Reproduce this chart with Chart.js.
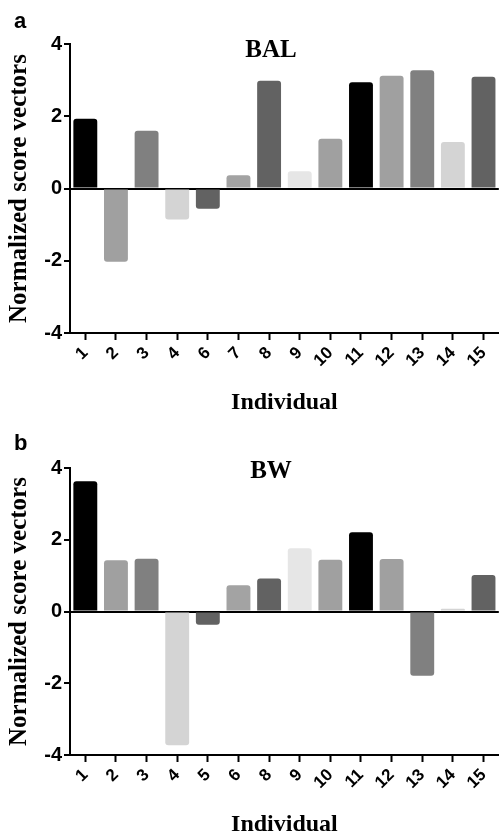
<!DOCTYPE html>
<html>
<head>
<meta charset="utf-8">
<script src="https://cdn.jsdelivr.net/npm/chart.js@4"></script>
<style>
  body { margin: 0; background: #fff; }
  .panel { position: relative; width: 501px; height: 417px; }
</style>
</head>
<body>
<div class="panel"><canvas id="chartA"></canvas></div>
<div class="panel"><canvas id="chartB"></canvas></div>
<script>
// panel a - BAL
const labelsA = ['1', '2', '3', '4', '6', '7', '8', '9', '10', '11', '12', '13', '14', '15'];
const valuesA = [1.93, -2.03, 1.6, -0.86, -0.56, 0.37, 2.98, 0.48, 1.38, 2.94, 3.12, 3.27, 1.29, 3.09];

// panel b - BW
const labelsB = ['1', '2', '3', '4', '5', '6', '8', '9', '10', '11', '12', '13', '14', '15'];
const valuesB = [3.63, 1.43, 1.47, -3.73, -0.37, 0.73, 0.92, 1.76, 1.44, 2.21, 1.46, -1.79, 0.08, 1.02];

const barColors = ['#000000', '#a0a0a0', '#808080', '#d4d4d4', '#626262', '#a3a3a3', '#626262',
                   '#e6e6e6', '#a0a0a0', '#000000', '#a0a0a0', '#808080', '#d4d4d4', '#626262'];
const yTicks = [-4, -2, 0, 2, 4];

// draws the panel letter and the serif title
const panelText = {
    id: 'panelText',
    afterDraw(chart, args, opts) {
        const ctx = chart.ctx;
        ctx.save();
        ctx.fillStyle = '#000';
        ctx.textBaseline = 'alphabetic';
        ctx.textAlign = 'left';
        ctx.font = 'bold 22px "Liberation Sans", Arial, sans-serif';
        ctx.fillText(opts.letter, 14, opts.letterY);
        ctx.textAlign = 'center';
        ctx.font = 'bold 25px "Liberation Serif", "Times New Roman", serif';
        ctx.fillText(opts.title, 271, opts.titleY);
        ctx.restore();
    }
};

function make_chart(id, labels, values, letter, title, top, xHeight, letterY, titleY, titlePad) {
    const data = {
        labels: labels,
        datasets: [{
            data: values,
            backgroundColor: barColors,
            borderWidth: 0,
            borderRadius: 3,
            barPercentage: 0.78,
            categoryPercentage: 1.0
        }]
    };
    const config = {
        type: 'bar',
        data: data,
        plugins: [panelText],
        options: {
            responsive: true,
            maintainAspectRatio: false,
            animation: false,
            layout: { padding: { top: top, right: 2, left: 0, bottom: 0 } },
            plugins: {
                legend: { display: false },
                tooltip: { enabled: false },
                panelText: { letter: letter, title: title, letterY: letterY, titleY: titleY }
            },
            scales: {
                x: {
                    grid: { display: true, drawOnChartArea: false, offset: false, tickLength: 7, tickColor: '#000', tickWidth: 2 },
                    border: { display: true, color: '#000', width: 2 },
                    ticks: {
                        color: '#000', minRotation: 45, maxRotation: 45, padding: 3, autoSkip: false,
                        font: { family: '"Liberation Sans", Arial, sans-serif', weight: 'bold', size: 17 }
                    },
                    title: {
                        display: true, text: 'Individual', color: '#000',
                        font: { family: '"Liberation Serif", "Times New Roman", serif', weight: 'bold', size: 24, lineHeight: 1 },
                        padding: { top: 0, bottom: titlePad }
                    },
                    afterFit: (scale) => { scale.height = xHeight; }
                },
                y: {
                    min: -4, max: 4,
                    afterBuildTicks: (scale) => { scale.ticks = yTicks.map(v => ({ value: v })); },
                    grid: {
                        color: (c) => (c.tick && c.tick.value === 0 ? '#000' : 'rgba(0,0,0,0)'),
                        lineWidth: 2, tickLength: 6, tickColor: '#000', tickWidth: 2
                    },
                    border: { display: true, color: '#000', width: 2 },
                    ticks: {
                        color: '#000', padding: 2,
                        font: { family: '"Liberation Sans", Arial, sans-serif', weight: 'bold', size: 20 }
                    },
                    title: {
                        display: true, text: 'Normalized score vectors', color: '#000',
                        font: { family: '"Liberation Serif", "Times New Roman", serif', weight: 'bold', size: 25, lineHeight: 1 },
                        padding: { top: 7, bottom: 0 }
                    },
                    afterFit: (scale) => { scale.width = 70; }
                }
            }
        }
    };
    return new Chart(document.getElementById(id), config);
}

make_chart('chartA', labelsA, valuesA, 'a', 'BAL', 44, 84, 28, 57, 2);
make_chart('chartB', labelsB, valuesB, 'b', 'BW', 51, 79, 33, 61, -3);
</script>
</body>
</html>
